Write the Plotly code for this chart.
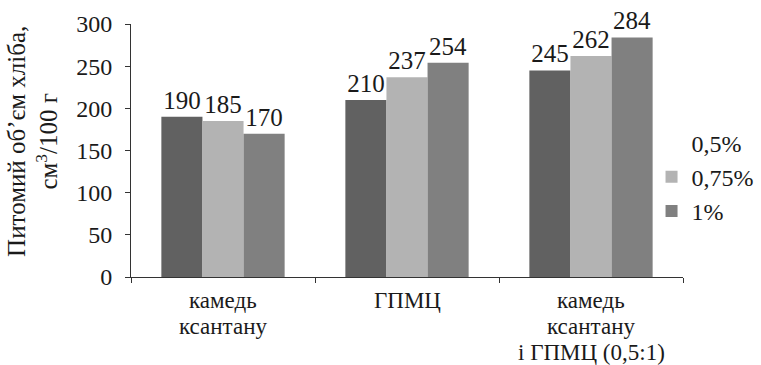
import plotly.graph_objects as go

categories = ["камедь ксантану", "ГПМЦ", "камедь ксантану і ГПМЦ (0,5:1)"]
category_lines = [["камедь", "ксантану"], ["ГПМЦ"], ["камедь", "ксантану", "і ГПМЦ (0,5:1)"]]
series_names = ["0,5%", "0,75%", "1%"]
values_05 = [190, 210, 245]
values_075 = [185, 237, 262]
values_1 = [170, 254, 284]
y_ticks = [0, 50, 100, 150, 200, 250, 300]
colors = ["#616161", "#b3b3b3", "#808080"]

FONT = "Liberation Serif"
TXT = "#1a1a1a"

fig = go.Figure()

# legend-only entry without a visible swatch for the first series
fig.add_trace(go.Scatter(
    x=[None], y=[None], mode="markers", name=series_names[0],
    marker=dict(color="rgba(0,0,0,0)", size=1),
    hoverinfo="skip",
))

for i, (name, vals) in enumerate(zip(series_names, [values_05, values_075, values_1])):
    fig.add_trace(go.Bar(
        x=categories, y=vals, name=name,
        marker=dict(color=colors[i], line=dict(width=0)),
        text=[str(v) for v in vals], textposition="outside",
        textfont=dict(family=FONT, size=25, color=TXT),
        constraintext="none", cliponaxis=False,
        showlegend=(i != 0),
    ))

# category labels, one line each, with tight line spacing
annotations = []
for cat, lines in zip(categories, category_lines):
    for k, line in enumerate(lines):
        annotations.append(dict(
            text=line, xref="x", yref="paper", x=cat, y=0,
            xanchor="center", yanchor="middle", yshift=-23 - 26 * k,
            showarrow=False, font=dict(family=FONT, size=23, color=TXT),
        ))

annotations.append(dict(
    text="Питомий об’єм хліба,<br>см<sup>3</sup>/100 г",
    textangle=-90, xref="paper", yref="paper",
    x=-0.178, y=0.537, xanchor="center", yanchor="middle",
    showarrow=False, font=dict(family=FONT, size=25, color=TXT),
))

fig.update_layout(
    width=761, height=365,
    margin=dict(l=131, r=78, t=24, b=88, autoexpand=False),
    paper_bgcolor="white", plot_bgcolor="white",
    barmode="group", bargap=0.33, bargroupgap=0,
    font=dict(family=FONT, size=25, color=TXT),
    showlegend=True,
    legend=dict(
        x=0.943, y=0.395, xanchor="left", yanchor="middle",
        font=dict(family=FONT, size=24, color=TXT),
        traceorder="normal", itemwidth=30,
        bgcolor="rgba(0,0,0,0)",
    ),
    xaxis=dict(
        type="category", categoryorder="array", categoryarray=categories,
        showline=True, linecolor="#333", linewidth=1,
        ticks="outside", tickson="boundaries", ticklen=5, tickcolor="#333",
        showticklabels=False, showgrid=False,
    ),
    yaxis=dict(
        range=[0, 300], tickvals=y_ticks,
        showline=True, linecolor="#333", linewidth=1,
        ticks="outside", ticklen=5, tickcolor="#333",
        ticklabelstandoff=8,
        tickfont=dict(family=FONT, size=24, color=TXT),
        showgrid=False, zeroline=False,
    ),
    annotations=annotations,
)

fig.write_html("out.html")
